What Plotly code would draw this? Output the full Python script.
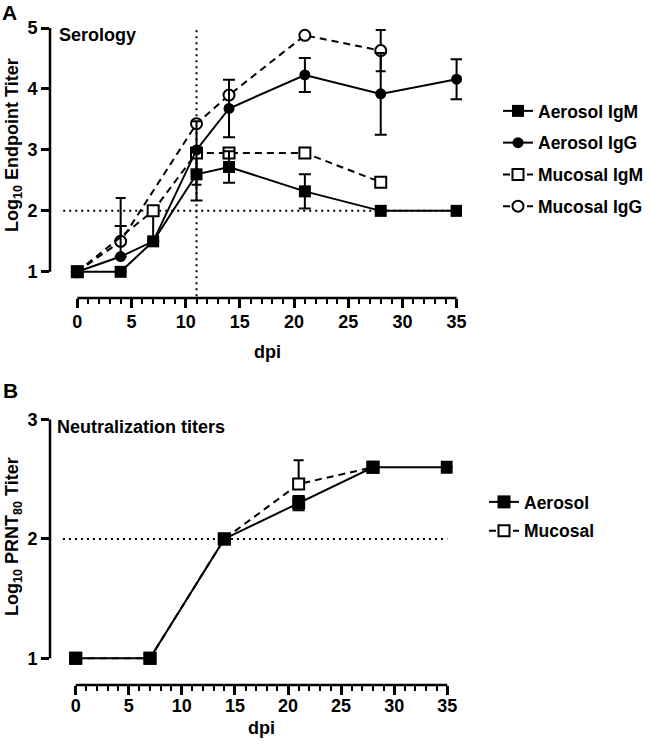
import plotly.graph_objects as go

W, H = 651, 749
FONT = "Liberation Sans, Arial, Helvetica, sans-serif"

# ---------------- Data: panel A (Serology) ----------------
a_igm_x = [0, 4, 7, 11, 14, 21, 28, 35]
a_igm_y = [1.0, 1.0, 1.5, 2.6, 2.72, 2.32, 2.0, 2.0]
a_igm_ep = [None, None, None, 0.43, 0.26, 0.28, None, None]
a_igm_em = [None, None, None, 0.43, 0.26, 0.28, None, None]

a_igg_x = [0, 4, 7, 11, 14, 21, 28, 35]
a_igg_y = [1.0, 1.25, 1.5, 3.0, 3.68, 4.23, 3.92, 4.16]
a_igg_ep = [None, 0.5, None, None, 0.47, 0.28, 0.67, 0.33]
a_igg_em = [None, 0.0, None, None, 0.47, 0.28, 0.67, 0.33]

m_igm_x = [0, 7, 11, 14, 21, 28]
m_igm_y = [1.0, 2.0, 2.95, 2.95, 2.95, 2.47]
m_igm_ep = [None, 0.0, 0.52, None, None, None]
m_igm_em = [None, 0.5, 0.52, None, None, None]

m_igg_x = [0, 4, 11, 14, 21, 28]
m_igg_y = [1.0, 1.5, 3.43, 3.9, 4.88, 4.63]
m_igg_ep = [None, 0.71, None, None, None, 0.34]
m_igg_em = [None, 0.0, None, None, None, 0.34]

# ---------------- Data: panel B (Neutralization) ----------------
b_aer_x = [0, 7, 14, 21, 28, 35]
b_aer_y = [1.0, 1.0, 2.0, 2.30, 2.6, 2.6]
b_aer_ep = [None, None, None, 0.06, None, None]
b_aer_em = [None, None, None, 0.06, None, None]

b_muc_x = [0, 7, 14, 21, 28]
b_muc_y = [1.0, 1.0, 2.0, 2.46, 2.6]
b_muc_ep = [None, None, None, 0.2, None]
b_muc_em = [None, None, None, 0.0, None]

x_major_ticks = [0, 5, 10, 15, 20, 25, 30, 35]
x_all_ticks = list(range(0, 36))
x_all_text = [str(v) if v in x_major_ticks else "" for v in x_all_ticks]
a_yticks = [1, 2, 3, 4, 5]
b_yticks = [1, 2, 3]
limit_y = 2
vline_x = 11


def px_x(p):
    return p / W


def px_y(p):
    return 1 - p / H


def err(ep, em, width=6):
    return dict(type="data", symmetric=False, array=ep, arrayminus=em,
                color="black", thickness=2, width=width, visible=True)


fig = go.Figure()

LW = 2
DASH = "7px,5px"

def add(x, y, ep, em, name, symbol, filled, size, dash, xa, ya, legend, rank, group, ew=6):
    fig.add_trace(go.Scatter(
        x=x, y=y, name=name, mode="lines+markers",
        line=dict(color="black", width=LW, dash=dash),
        marker=dict(symbol=symbol, size=size,
                    color="black" if filled else "white",
                    line=dict(color="black", width=0 if filled else 2)),
        error_y=err(ep, em, ew),
        xaxis=xa, yaxis=ya, legend=legend, legendrank=rank, legendgroup=group,
    ))

# Panel A traces (drawing order); legend order via legendrank
add(m_igg_x, m_igg_y, m_igg_ep, m_igg_em, "Mucosal IgG", "circle", False, 11, DASH, "x", "y", "legend", 4, "a4", 5)
add(m_igm_x, m_igm_y, m_igm_ep, m_igm_em, "Mucosal IgM", "square", False, 11, DASH, "x", "y", "legend", 3, "a3", 5)
add(a_igg_x, a_igg_y, a_igg_ep, a_igg_em, "Aerosol IgG", "circle", True, 11, "solid", "x", "y", "legend", 2, "a2", 6)
add(a_igm_x, a_igm_y, a_igm_ep, a_igm_em, "Aerosol IgM", "square", True, 12, "solid", "x", "y", "legend", 1, "a1", 6)

# Panel B traces
add(b_muc_x, b_muc_y, b_muc_ep, b_muc_em, "Mucosal", "square", False, 11, DASH, "x2", "y2", "legend2", 2, "b2", 5)
add(b_aer_x, b_aer_y, b_aer_ep, b_aer_em, "Aerosol", "square", True, 13, "solid", "x2", "y2", "legend2", 1, "b1", 6)

tickfont = dict(family=FONT, size=18, color="black", weight="bold")

def xaxis_cfg(dom, rng, anchor, standoff):
    return dict(domain=dom, range=rng, showline=False, showgrid=False, zeroline=False,
                automargin=False,
                tickmode="array", tickvals=x_all_ticks, ticktext=x_all_text,
                ticks="outside", ticklen=5, tickwidth=2,
                tickcolor="black", tickfont=tickfont, anchor=anchor, ticklabelstandoff=standoff)

def xmajor_cfg(over, rng, anchor):
    return dict(overlaying=over, range=rng, anchor=anchor, side="bottom", showline=False,
                showgrid=False, zeroline=False, automargin=False, tickmode="array",
                tickvals=x_major_ticks, ticks="outside", ticklen=9, tickwidth=2.5,
                tickcolor="black", showticklabels=False)

def yaxis_cfg(dom, rng, tv, anchor):
    return dict(domain=dom, range=rng, showline=False, showgrid=False, zeroline=False,
                automargin=False,
                tickmode="array", tickvals=tv, ticks="outside", ticklen=8, tickwidth=2.5,
                tickcolor="black", tickfont=tickfont, anchor=anchor)

A_XR = [-2.52, 35.5]
B_XR = [-2.42, 35.5]

fig.update_layout(
    width=W, height=H, margin=dict(l=0, r=0, t=0, b=0, autoexpand=False),
    paper_bgcolor="white", plot_bgcolor="white",
    font=dict(family=FONT, color="black"),
    xaxis=xaxis_cfg([px_x(50), px_x(462)], A_XR, "y", 2),
    yaxis=yaxis_cfg([px_y(298), px_y(25)], [0.57, 5.05], a_yticks, "x"),
    xaxis2=xaxis_cfg([px_x(50), px_x(452.6)], B_XR, "y2", -1),
    yaxis2=yaxis_cfg([px_y(685), px_y(416)], [0.776, 3.03], b_yticks, "x2"),
    xaxis3=xmajor_cfg("x", A_XR, "y"),
    xaxis4=xmajor_cfg("x2", B_XR, "y2"),
    legend=dict(x=px_x(498), y=px_y(93), xanchor="left", yanchor="top",
                traceorder="grouped", tracegroupgap=6, borderwidth=0,
                font=dict(family=FONT, size=17.5, color="black", weight="bold"),
                bgcolor="rgba(0,0,0,0)"),
    legend2=dict(x=px_x(484), y=px_y(484), xanchor="left", yanchor="top",
                 traceorder="grouped", tracegroupgap=3, borderwidth=0,
                 font=dict(family=FONT, size=17.5, color="black", weight="bold"),
                 bgcolor="rgba(0,0,0,0)"),
    showlegend=True,
)

# invisible helper traces so the overlay tick axes are drawn
fig.add_trace(go.Scatter(x=[0, 35], y=[1, 1], xaxis="x3", yaxis="y", mode="markers",
                         marker=dict(opacity=0), showlegend=False, hoverinfo="skip"))
fig.add_trace(go.Scatter(x=[0, 35], y=[1, 1], xaxis="x4", yaxis="y2", mode="markers",
                         marker=dict(opacity=0), showlegend=False, hoverinfo="skip"))

shapes = []
# Axis lines (offset GraphPad style)
shapes.append(dict(type="line", xref="x", yref="y domain", x0=0, x1=35, y0=0, y1=0,
                   line=dict(color="black", width=2.5), layer="above"))
shapes.append(dict(type="line", xref="x domain", yref="y", x0=0, x1=0, y0=1, y1=5,
                   line=dict(color="black", width=2.5), layer="above"))
shapes.append(dict(type="line", xref="x2", yref="y2 domain", x0=0, x1=35, y0=0, y1=0,
                   line=dict(color="black", width=2.5), layer="above"))
shapes.append(dict(type="line", xref="x2 domain", yref="y2", x0=0, x1=0, y0=1, y1=3,
                   line=dict(color="black", width=2.5), layer="above"))
# Dotted reference lines
shapes.append(dict(type="line", xref="x", yref="y", x0=-1.3, x1=35, y0=limit_y, y1=limit_y,
                   line=dict(color="black", width=2, dash="2px,4px"), layer="below"))
shapes.append(dict(type="line", xref="x", yref="y", x0=vline_x, x1=vline_x, y0=0.6, y1=5.0,
                   line=dict(color="black", width=2, dash="2px,4px"), layer="below"))
shapes.append(dict(type="line", xref="x2", yref="y2", x0=-1.2, x1=35, y0=limit_y, y1=limit_y,
                   line=dict(color="black", width=2, dash="2px,4px"), layer="below"))
fig.update_layout(shapes=shapes)

bold18 = dict(family=FONT, size=18, color="black", weight="bold")
ann = []
ann.append(dict(text="A", x=px_x(1), y=1, xref="paper", yref="paper",
                xanchor="left", yanchor="top", showarrow=False, borderpad=0,
                font=dict(family=FONT, size=21, color="black", weight="bold")))
ann.append(dict(text="B", x=px_x(1), y=px_y(390), xref="paper", yref="paper",
                xanchor="left", yanchor="middle", showarrow=False,
                font=dict(family=FONT, size=21, color="black", weight="bold")))
ann.append(dict(text="Serology", x=px_x(57), y=px_y(35), xref="paper", yref="paper",
                xanchor="left", yanchor="middle", showarrow=False, font=bold18))
ann.append(dict(text="Neutralization titers", x=px_x(55), y=px_y(427), xref="paper", yref="paper",
                xanchor="left", yanchor="middle", showarrow=False, font=bold18))
ann.append(dict(text="Log<sub>10</sub> Endpoint Titer", x=px_x(13), y=px_y(145),
                xref="paper", yref="paper", textangle=-90, showarrow=False,
                xanchor="center", yanchor="middle", font=bold18))
ann.append(dict(text="Log<sub>10</sub> PRNT<sub>80</sub> Titer", x=px_x(13), y=px_y(537),
                xref="paper", yref="paper", textangle=-90, showarrow=False,
                xanchor="center", yanchor="middle", font=bold18))
ann.append(dict(text="dpi", x=px_x(267), y=px_y(352), xref="paper", yref="paper",
                showarrow=False, xanchor="center", yanchor="middle", font=bold18))
ann.append(dict(text="dpi", x=px_x(261), y=px_y(728), xref="paper", yref="paper",
                showarrow=False, xanchor="center", yanchor="middle", font=bold18))
fig.update_layout(annotations=ann)

POST = ("document.body.style.margin='0px';"
        "document.body.style.overflow='hidden';"
        "var d=document.getElementById('{plot_id}');"
        "d.style.position='absolute';d.style.left='0px';d.style.top='0px';")

fig.write_html("out.html", config={"displayModeBar": False}, post_script=POST)
